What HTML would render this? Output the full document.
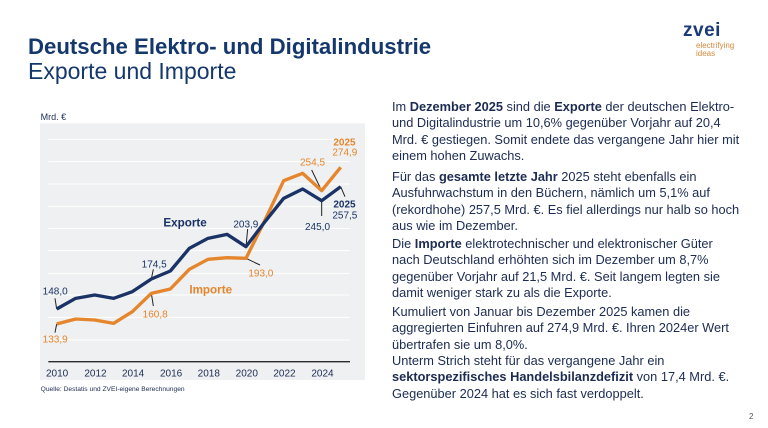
<!DOCTYPE html>
<html><head><meta charset="utf-8"><style>
body{margin:0;width:768px;height:428px;background:#fff;position:relative;overflow:hidden;font-family:"Liberation Sans",sans-serif;}
.t{position:absolute;white-space:nowrap;}
.p{position:absolute;left:392px;font-size:12.8px;line-height:16.4px;color:#1c2b52;white-space:nowrap;}
b{font-weight:bold;}
</style></head><body>
<div class="t" style="left:28px;top:34px;font-size:22.2px;font-weight:bold;color:#15386c;">Deutsche Elektro- und Digitalindustrie</div>
<div class="t" style="left:28px;top:58px;font-size:23px;color:#15386c;">Exporte und Importe</div>
<div class="t" style="left:683px;top:20px;font-size:19px;font-weight:bold;color:#1a3a7a;letter-spacing:0.5px">zvei</div>
<div class="t" style="left:696px;top:42px;font-size:8px;line-height:8px;color:#d58a3c;">electrifying<br>ideas</div>

<svg style="position:absolute;left:20px;top:110px" width="360" height="290" viewBox="0 0 1080 870">
<text x="62" y="30" font-size="27" fill="#1c2b52" font-family="Liberation Sans">Mrd. €</text>
<rect x="60" y="40" width="975" height="770" fill="#eef0f1"/>
<g stroke="#fff" stroke-width="3">
<line x1="85" x2="990" y1="88" y2="88"/><line x1="85" x2="990" y1="155" y2="155"/><line x1="85" x2="990" y1="222" y2="222"/><line x1="85" x2="990" y1="290" y2="290"/><line x1="85" x2="990" y1="355" y2="355"/><line x1="85" x2="990" y1="422" y2="422"/><line x1="85" x2="990" y1="490" y2="490"/><line x1="85" x2="990" y1="555" y2="555"/><line x1="85" x2="990" y1="622" y2="622"/><line x1="85" x2="990" y1="690" y2="690"/>
</g>
<line x1="85" x2="990" y1="755" y2="755" stroke="#2a2a2a" stroke-width="4"/>
<g stroke="#222" stroke-width="3">
<line x1="110" y1="597" x2="105" y2="565"/><line x1="110" y1="642" x2="105" y2="668"/>
<line x1="394" y1="507" x2="400" y2="478"/><line x1="394" y1="550" x2="400" y2="588"/>
<line x1="678" y1="410" x2="683" y2="357"/><line x1="678" y1="445" x2="720" y2="465"/>
<line x1="905" y1="242" x2="875" y2="180"/><line x1="905" y1="272" x2="905" y2="318"/>
<line x1="962" y1="230" x2="975" y2="260"/>
</g>
<polyline fill="none" stroke="#e5852c" stroke-width="10" stroke-linejoin="round" points="110,642 167,627 224,630 281,640 337,605 394,550 451,537 508,478 564,448 621,443 678,445 735,330 791,212 848,190 905,242 962,172"/>
<polyline fill="none" stroke="#1a3266" stroke-width="10" stroke-linejoin="round" points="110,597 167,565 224,555 281,565 337,545 394,507 451,483 508,415 564,385 621,373 678,410 735,335 791,265 848,237 905,272 962,230"/>
<g font-family="Liberation Sans" font-size="30">
<text x="68" y="553" fill="#1a3266">148,0</text>
<text x="68" y="697" fill="#e5852c">133,9</text>
<text x="365" y="472" fill="#1a3266">174,5</text>
<text x="368" y="622" fill="#e5852c">160,8</text>
<text x="640" y="352" fill="#1a3266">203,9</text>
<text x="685" y="500" fill="#e5852c">193,0</text>
<text x="840" y="167" fill="#e5852c">254,5</text>
<text x="855" y="360" fill="#1a3266">245,0</text>
<text x="940" y="107" fill="#e5852c" font-weight="bold">2025</text>
<text x="937" y="137" fill="#e5852c">274,9</text>
<text x="940" y="292" fill="#1a3266" font-weight="bold">2025</text>
<text x="937" y="325" fill="#1a3266">257,5</text>
<text x="430" y="350" fill="#1a3266" font-weight="bold" font-size="35">Exporte</text>
<text x="508" y="550" fill="#e5852c" font-weight="bold" font-size="35">Importe</text>
<g fill="#1c2b52" font-size="30">
<text x="78" y="800">2010</text><text x="193" y="800">2012</text><text x="306" y="800">2014</text><text x="420" y="800">2016</text><text x="533" y="800">2018</text><text x="647" y="800">2020</text><text x="760" y="800">2022</text><text x="874" y="800">2024</text>
</g>
<text x="62" y="843" font-size="20" fill="#1c2b52">Quelle: Destatis und ZVEI-eigene Berechnungen</text>
</g>
</svg>

<div class="p" style="top:99px">Im <b>Dezember 2025</b> sind die <b>Exporte</b> der deutschen Elektro-<br>und Digitalindustrie um 10,6% gegenüber Vorjahr auf 20,4<br>Mrd. € gestiegen. Somit endete das vergangene Jahr hier mit<br>einem hohen Zuwachs.</div>
<div class="p" style="top:169px">Für das <b>gesamte letzte Jahr</b> 2025 steht ebenfalls ein<br>Ausfuhrwachstum in den Büchern, nämlich um 5,1% auf<br>(rekordhohe) 257,5 Mrd. €. Es fiel allerdings nur halb so hoch<br>aus wie im Dezember.</div>
<div class="p" style="top:236px">Die <b>Importe</b> elektrotechnischer und elektronischer Güter<br>nach Deutschland erhöhten sich im Dezember um 8,7%<br>gegenüber Vorjahr auf 21,5 Mrd. €. Seit langem legten sie<br>damit weniger stark zu als die Exporte.</div>
<div class="p" style="top:304px">Kumuliert von Januar bis Dezember 2025 kamen die<br>aggregierten Einfuhren auf 274,9 Mrd. €. Ihren 2024er Wert<br>übertrafen sie um 8,0%.</div>
<div class="p" style="top:353px">Unterm Strich steht für das vergangene Jahr ein<br><b>sektorspezifisches Handelsbilanzdefizit</b> von 17,4 Mrd. €.<br>Gegenüber 2024 hat es sich fast verdoppelt.</div>
<div class="t" style="left:749px;top:412px;font-size:8px;color:#555;">2</div>
</body></html>
